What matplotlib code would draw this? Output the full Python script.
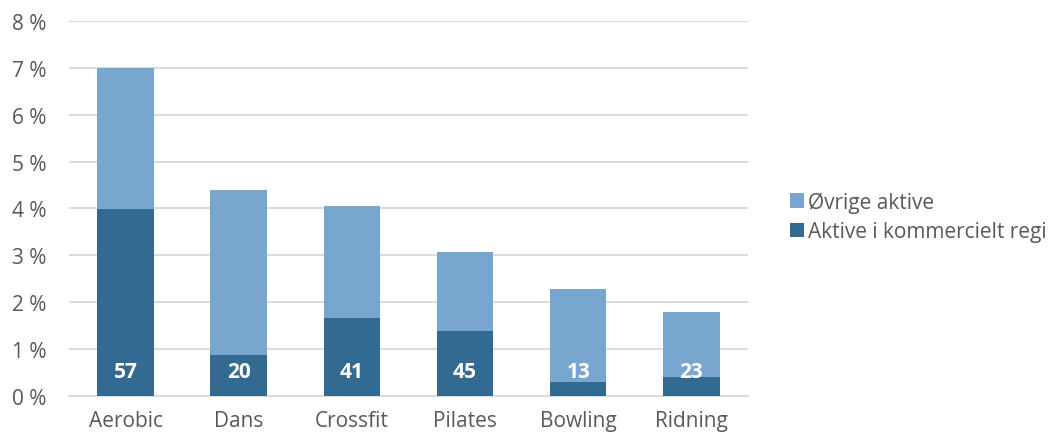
import numpy as np
import matplotlib.pyplot as plt
from matplotlib.ticker import FuncFormatter

# Data (percent of population active in each sport)
categories = ['Aerobic', 'Dans', 'Crossfit', 'Pilates', 'Bowling', 'Ridning']
kommersielt = [3.99, 0.88, 1.66, 1.38, 0.30, 0.41]
ovrige = [3.01, 3.52, 2.39, 1.69, 1.98, 1.38]
andel_labels = ['57', '20', '41', '45', '13', '23']

plt.rcParams['font.family'] = ['Open Sans', 'DejaVu Sans']

fig = plt.figure(figsize=(10.53, 4.39), dpi=100)
ax = fig.add_axes([0.0655, 0.0957, 0.6448, 0.8542])

x = np.arange(len(categories))
dark = '#336A91'
light = '#78A6CF'

ax.bar(x, kommersielt, width=0.5, color=dark, label='Aktive i kommercielt regi', zorder=3)
ax.bar(x, ovrige, width=0.5, bottom=kommersielt, color=light, label='Øvrige aktive', zorder=3)

for xi, lab in zip(x, andel_labels):
    ax.text(xi, 0.53, lab, ha='center', va='center', color='white',
            fontsize=15, fontweight='bold', zorder=4)

ax.set_xlim(-0.5, len(categories) - 0.5)
ax.set_ylim(0, 8)
ax.set_yticks(range(0, 9))
ax.yaxis.set_major_formatter(FuncFormatter(lambda v, p: f'{int(v)} %'))
ax.set_xticks(x)
ax.set_xticklabels(categories)

ax.grid(axis='y', color='#D9D9D9', linewidth=1.3, zorder=0)
for s in ['top', 'right', 'left']:
    ax.spines[s].set_visible(False)
ax.spines['bottom'].set_color('#D9D9D9')
ax.spines['bottom'].set_linewidth(1.3)
ax.tick_params(axis='both', length=0, labelsize=15, labelcolor='#595959')
ax.tick_params(axis='x', pad=10)
ax.tick_params(axis='y', pad=16)

handles, labels = ax.get_legend_handles_labels()
leg = fig.legend(handles[::-1], labels[::-1], loc='center left',
                 bbox_to_anchor=(0.742, 0.504), frameon=False,
                 fontsize=15, handlelength=0.7, handleheight=0.7,
                 handletextpad=0.2, labelspacing=0.4, borderaxespad=0)
for t in leg.get_texts():
    t.set_color('#595959')

fig.savefig('out.png', dpi=100, facecolor='white')
